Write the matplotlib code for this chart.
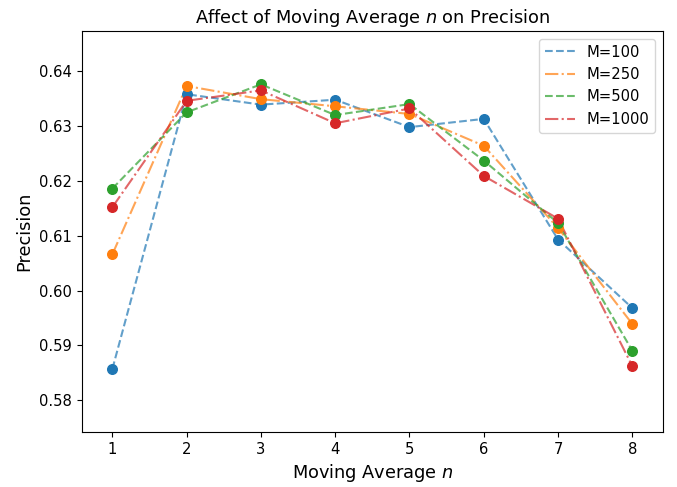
from matplotlib import pyplot as plt

n_values = [1, 2, 3, 4, 5, 6, 7, 8]
labels = ['M=100', 'M=250', 'M=500', 'M=1000']
prec_100 = [0.5857, 0.6358, 0.6339, 0.6348, 0.6298, 0.6313, 0.6093, 0.5968]
prec_250 = [0.6066, 0.6373, 0.6349, 0.6336, 0.6322, 0.6264, 0.6114, 0.5939]
prec_500 = [0.6186, 0.6325, 0.6376, 0.6320, 0.6340, 0.6237, 0.6123, 0.5890]
prec_1000 = [0.6152, 0.6346, 0.6365, 0.6305, 0.6332, 0.6209, 0.6131, 0.5862]


def main():
    plt.rcParams['font.size'] = 10.67
    series = [prec_100, prec_250, prec_500, prec_1000]
    styles = ['--', '-.', '--', '-.']
    colors = ['C0', 'C1', 'C2', 'C3']

    fig = plt.figure(figsize=(6.77, 4.87), dpi=100)
    ax = fig.add_axes([0.121, 0.113, 0.858, 0.823])
    for vals, lab, ls, c in zip(series, labels, styles, colors):
        ax.plot(n_values, vals, linestyle=ls, color=c, alpha=0.7, label=lab)
        ax.scatter(n_values, vals, color=c, s=48, zorder=3)

    ax.set_xlim(0.59, 8.41)
    ax.set_ylim(0.5742, 0.6473)
    ax.set_xticks(n_values)
    ax.set_title('Affect of Moving Average $n$ on Precision', fontsize=12.8)
    ax.set_xlabel('Moving Average $n$', fontsize=12.8)
    ax.set_ylabel('Precision', fontsize=12.8)
    ax.legend(loc='upper right')
    fig.savefig('out.png', dpi=100)


if __name__ == "__main__":
    main()
